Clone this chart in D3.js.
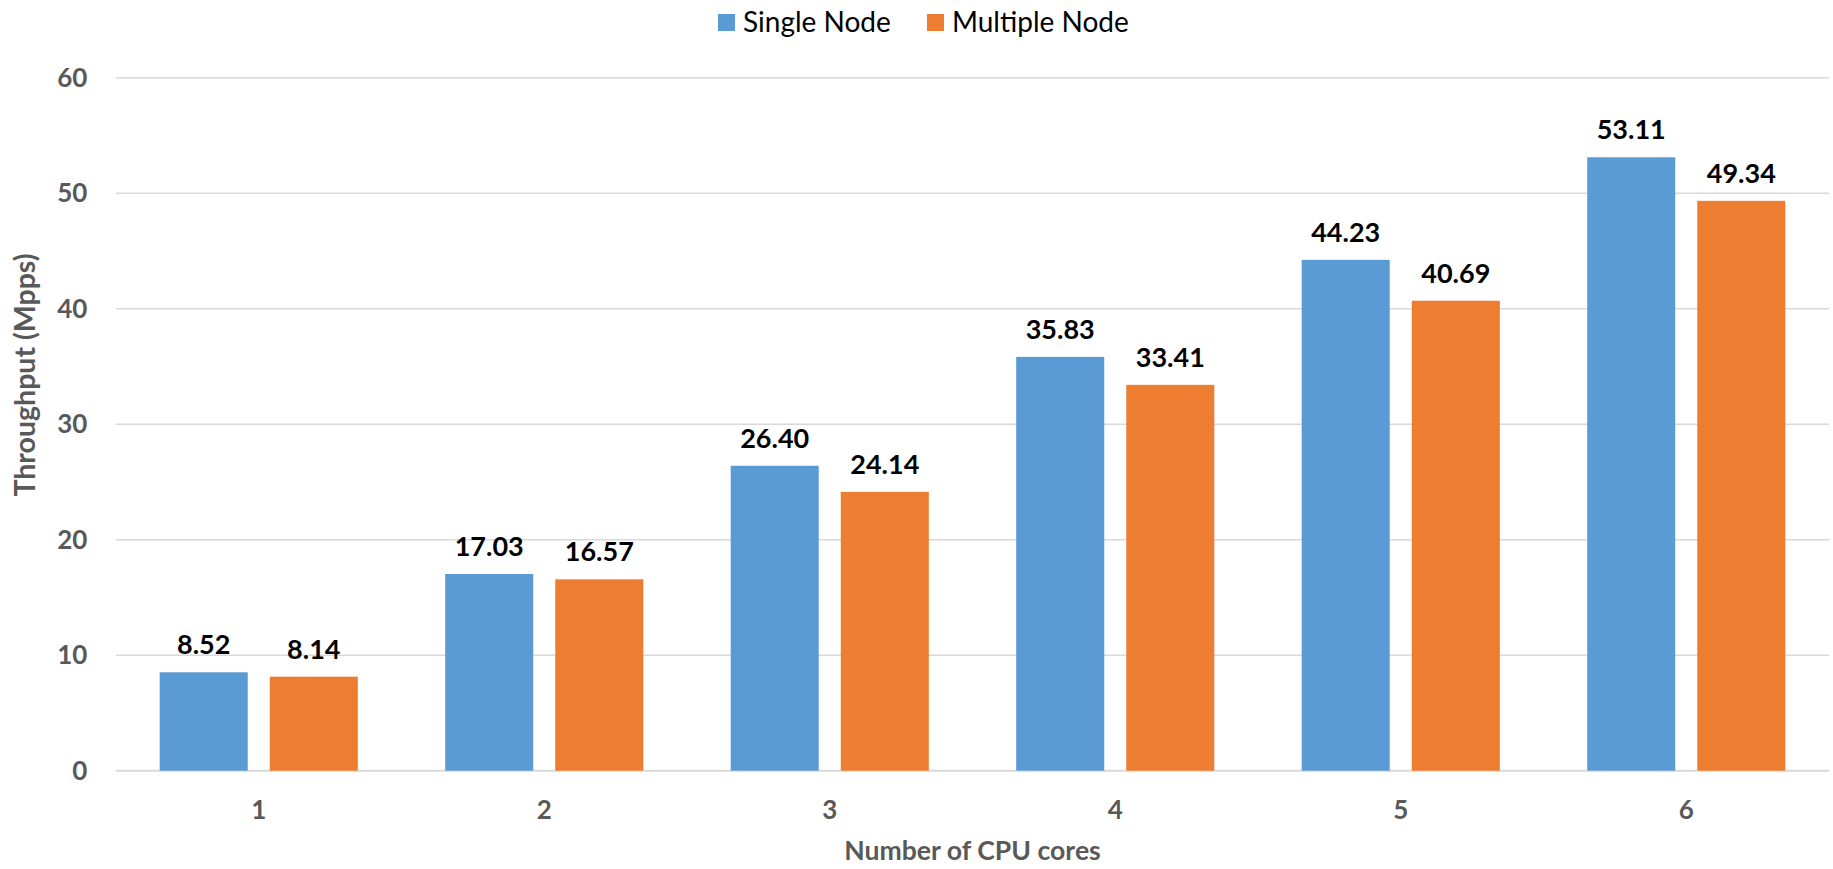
<!DOCTYPE html>
<html>
<head>
<meta charset="utf-8">
<script src="https://cdn.jsdelivr.net/npm/d3@7"></script>
<style>
  html, body { margin: 0; padding: 0; background: #fff; }
  svg { display: block; }
</style>
</head>
<body>
<svg id="chart" width="1833" height="869"></svg>
<script>
// Throughput per number of CPU cores, single vs multiple node
const cores = ["1", "2", "3", "4", "5", "6"];
const seriesNames = ["Single Node", "Multiple Node"];
const singleNode = [8.52, 17.03, 26.40, 35.83, 44.23, 53.11];
const multipleNode = [8.14, 16.57, 24.14, 33.41, 40.69, 49.34];
const yTicks = [0, 10, 20, 30, 40, 50, 60];
const colors = ["#5B9BD5", "#ED7D31"];

const svg = d3.select("#chart");
const margin = { left: 116, right: 4, top: 77.7, bottom: 98.3 };
const W = 1833, H = 869;
const plotBottom = H - margin.bottom;

const x0 = d3.scaleBand()
  .domain(cores)
  .range([margin.left, W - margin.right])
  .paddingInner(0.306)
  .paddingOuter(0.153);

const x1 = d3.scaleBand()
  .domain(seriesNames)
  .range([0, x0.bandwidth()])
  .paddingInner(0.2);

const y = d3.scaleLinear()
  .domain([0, 60])
  .range([plotBottom, margin.top]);

const font = "Lato, 'Open Sans', sans-serif";
const gray = "#595959";

// horizontal gridlines
svg.append("g")
  .selectAll("line")
  .data(yTicks)
  .join("line")
  .attr("x1", margin.left)
  .attr("x2", W - margin.right)
  .attr("y1", d => y(d))
  .attr("y2", d => y(d))
  .attr("stroke", "#D9D9D9")
  .attr("stroke-width", d => d === 0 ? 2 : 1.5);

// y axis tick labels
const yAxis = d3.axisLeft(y).tickValues(yTicks).tickSize(0).tickPadding(28.7);
svg.append("g")
  .attr("transform", `translate(${margin.left},0)`)
  .call(yAxis)
  .call(g => g.select(".domain").remove())
  .selectAll("text")
  .attr("font-family", font)
  .attr("font-weight", "bold")
  .attr("font-size", 26)
  .attr("fill", gray);

// x axis tick labels
const xAxis = d3.axisBottom(x0).tickSize(0).tickPadding(30);
svg.append("g")
  .attr("transform", `translate(0,${plotBottom})`)
  .call(xAxis)
  .call(g => g.select(".domain").remove())
  .selectAll("text")
  .attr("font-family", font)
  .attr("font-weight", "bold")
  .attr("font-size", 26)
  .attr("fill", gray);

// bars
const rows = cores.map((c, i) => ({
  core: c,
  values: [
    { name: seriesNames[0], value: singleNode[i] },
    { name: seriesNames[1], value: multipleNode[i] }
  ]
}));

const groups = svg.append("g")
  .selectAll("g")
  .data(rows)
  .join("g")
  .attr("transform", d => `translate(${x0(d.core)},0)`);

groups.selectAll("rect")
  .data(d => d.values)
  .join("rect")
  .attr("x", d => x1(d.name))
  .attr("width", x1.bandwidth())
  .attr("y", d => y(d.value))
  .attr("height", d => plotBottom - y(d.value))
  .attr("fill", (d, i) => colors[i]);

// value labels above bars
groups.selectAll("text.value")
  .data(d => d.values)
  .join("text")
  .attr("class", "value")
  .attr("x", d => x1(d.name) + x1.bandwidth() / 2)
  .attr("y", d => y(d.value) - 18)
  .attr("text-anchor", "middle")
  .attr("font-family", font)
  .attr("font-weight", "bold")
  .attr("font-size", 27)
  .attr("fill", "#000")
  .text(d => d.value.toFixed(2));

// axis titles
svg.append("text")
  .attr("x", (margin.left + W - margin.right) / 2)
  .attr("y", 860)
  .attr("text-anchor", "middle")
  .attr("font-family", font)
  .attr("font-weight", "bold")
  .attr("font-size", 26.6)
  .attr("fill", gray)
  .text("Number of CPU cores");

svg.append("text")
  .attr("transform", "translate(35,375) rotate(-90)")
  .attr("text-anchor", "middle")
  .attr("font-family", font)
  .attr("font-weight", "bold")
  .attr("font-size", 28.5)
  .attr("fill", gray)
  .text("Throughput (Mpps)");

// legend
const legend = svg.append("g");
const legendItems = [
  { name: seriesNames[0], color: colors[0], x: 718 },
  { name: seriesNames[1], color: colors[1], x: 927 }
];
legendItems.forEach(item => {
  legend.append("rect")
    .attr("x", item.x)
    .attr("y", 14)
    .attr("width", 17)
    .attr("height", 17)
    .attr("fill", item.color);
  legend.append("text")
    .attr("x", item.x + 25)
    .attr("y", 22.5)
    .attr("dy", "0.35em")
    .attr("font-family", font)
    .attr("font-size", 28)
    .attr("fill", "#000")
    .text(item.name);
});
</script>
</body>
</html>
